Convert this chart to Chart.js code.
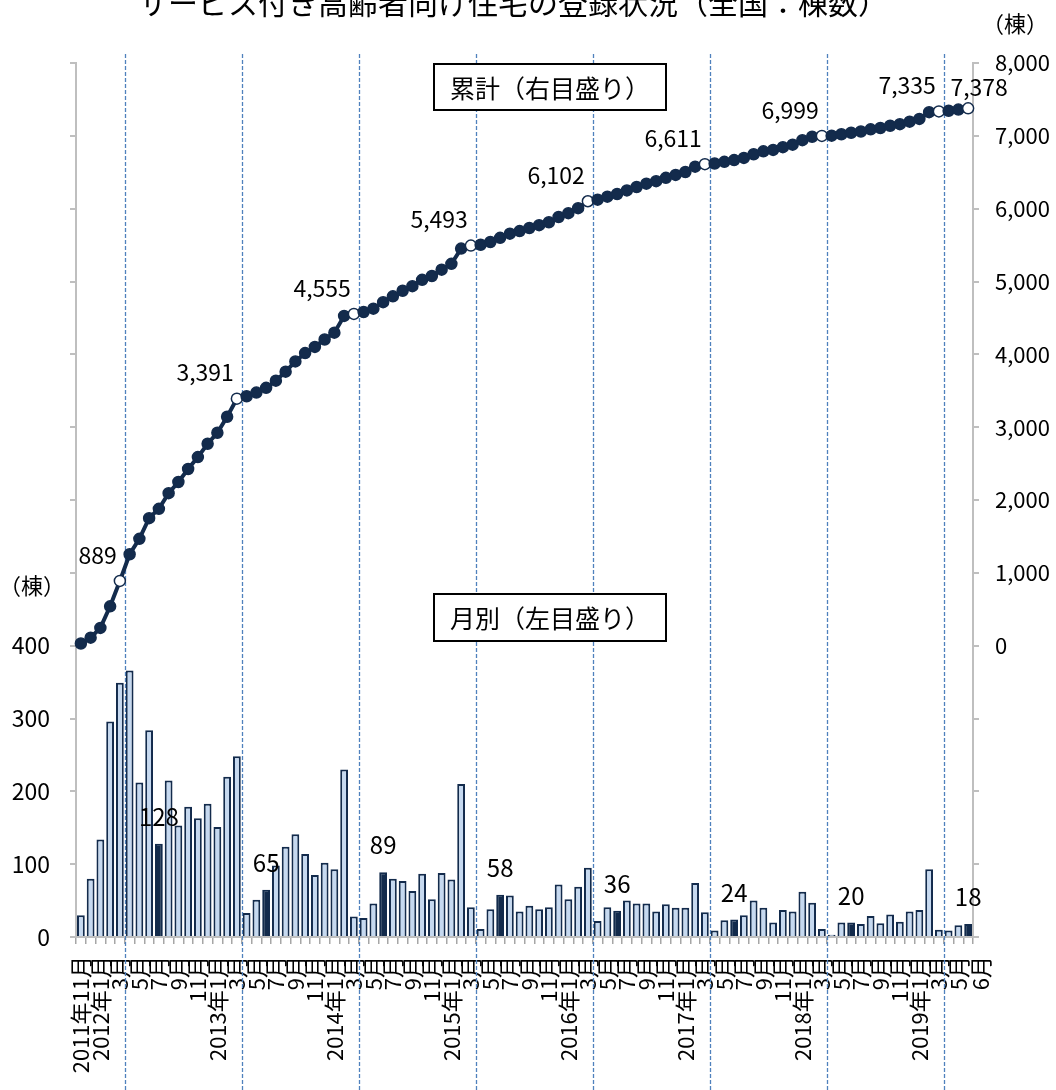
<!DOCTYPE html>
<html lang="ja">
<head>
<meta charset="utf-8">
<title>サービス付き高齢者向け住宅の登録状況</title>
<script src="https://cdn.jsdelivr.net/npm/chart.js@4.4.1/dist/chart.umd.min.js"></script>
<style>
  html, body { margin: 0; padding: 0; background: #fff; }
  #wrap { width: 1056px; height: 1090px; position: relative; }
</style>
</head>
<body>
<div id="wrap"><canvas id="chart"></canvas></div>
<script>
// --- DATA ---
const months = [
  '2011年11月', '12月',
  '2012年1月', '2月', '3月', '4月', '5月', '6月', '7月', '8月', '9月', '10月', '11月', '12月',
  '2013年1月', '2月', '3月', '4月', '5月', '6月', '7月', '8月', '9月', '10月', '11月', '12月',
  '2014年1月', '2月', '3月', '4月', '5月', '6月', '7月', '8月', '9月', '10月', '11月', '12月',
  '2015年1月', '2月', '3月', '4月', '5月', '6月', '7月', '8月', '9月', '10月', '11月', '12月',
  '2016年1月', '2月', '3月', '4月', '5月', '6月', '7月', '8月', '9月', '10月', '11月', '12月',
  '2017年1月', '2月', '3月', '4月', '5月', '6月', '7月', '8月', '9月', '10月', '11月', '12月',
  '2018年1月', '2月', '3月', '4月', '5月', '6月', '7月', '8月', '9月', '10月', '11月', '12月',
  '2019年1月', '2月', '3月', '4月', '5月', '6月'
];

// monthly registrations (left axis)
const monthly = [
  30, 80,
  134, 296, 349, 366, 212, 284, 128, 215, 153, 179, 163, 183,
  151, 220, 248, 33, 51, 65, 98, 124, 141, 114, 85, 102,
  93, 230, 28, 26, 46, 89, 80, 77, 63, 87, 52, 88,
  79, 210, 41, 11, 38, 58, 57, 35, 43, 38, 41, 72,
  52, 69, 95, 22, 41, 36, 50, 46, 46, 35, 45, 40,
  40, 74, 34, 9, 23, 24, 30, 50, 40, 20, 37, 35,
  62, 47, 11, 3, 20, 20, 18, 29, 19, 31, 21, 35,
  37, 93, 10, 9, 16, 18
];

// cumulative total (right axis)
const cumulative = [
  30, 110,
  244, 540, 889, 1255, 1467, 1751, 1879, 2094, 2247, 2426, 2589, 2772,
  2923, 3143, 3391, 3424, 3475, 3540, 3638, 3762, 3903, 4017, 4102, 4204,
  4297, 4527, 4555, 4581, 4627, 4716, 4796, 4873, 4936, 5023, 5075, 5163,
  5242, 5452, 5493, 5504, 5542, 5600, 5657, 5692, 5735, 5773, 5814, 5886,
  5938, 6007, 6102, 6124, 6165, 6201, 6251, 6297, 6343, 6378, 6423, 6463,
  6503, 6577, 6611, 6620, 6643, 6667, 6697, 6747, 6787, 6807, 6844, 6879,
  6941, 6988, 6999, 7002, 7022, 7042, 7060, 7089, 7108, 7139, 7160, 7195,
  7232, 7325, 7335, 7344, 7360, 7378
];

// bars drawn dark and labelled
const highlightBars = [8, 19, 31, 43, 55, 67, 79, 91];

const leftTicksShown = [0, 100, 200, 300, 400];
const rightTicksShown = [0, 1000, 2000, 3000, 4000, 5000, 6000, 7000, 8000];

// --- STYLE ---
const DARK = '#132B4C';
const LIGHT = '#C6D9F0';
const AXIS = '#BFBFBF';
const DASH = '#4F81BD';
const FONT = '"Noto Sans CJK JP", "Noto Sans", sans-serif';

Chart.defaults.font.family = FONT;
Chart.defaults.color = '#000';

const lastIdx = months.length - 1;
// fiscal year ends (March) and the latest month get the white markers
const markIdx = months.map((m, i) => (m === '3月' || i === lastIdx) ? i : -1).filter(i => i >= 0);

// --- PLUGINS ---
const decorations = {
  id: 'decorations',
  beforeDatasetsDraw(chart) {
    const { ctx } = chart;
    const x = chart.scales.x;
    ctx.save();
    ctx.strokeStyle = DASH;
    ctx.lineWidth = 1.3;
    ctx.setLineDash([4, 2]);
    months.forEach((m, i) => {
      if (m !== '3月') return;
      const px = Math.round((x.getPixelForValue(i) + x.getPixelForValue(i + 1)) / 2) + 0.5;
      ctx.beginPath();
      ctx.moveTo(px, 54);
      ctx.lineTo(px, chart.height);
      ctx.stroke();
    });
    ctx.restore();
  },
  afterDatasetsDraw(chart) {
    const { ctx } = chart;
    const barMeta = chart.getDatasetMeta(1);
    const lineMeta = chart.getDatasetMeta(0);
    ctx.save();
    ctx.fillStyle = '#000';

    // bar value labels
    ctx.font = '24px ' + FONT;
    ctx.textAlign = 'center';
    ctx.textBaseline = 'middle';
    highlightBars.forEach(i => {
      const b = barMeta.data[i];
      ctx.fillText(String(monthly[i]), b.x, b.y - 27);
    });

    // cumulative labels
    ctx.font = '23px ' + FONT;
    markIdx.forEach(i => {
      const p = lineMeta.data[i];
      const txt = cumulative[i].toLocaleString('en-US');
      if (i === lastIdx) {
        ctx.textAlign = 'center';
        ctx.fillText(txt, p.x + 11, p.y - 21);
      } else {
        ctx.textAlign = 'right';
        ctx.fillText(txt, p.x - 3, p.y - 26);
      }
    });

    // legend boxes
    const box = (x, y, w, h, text) => {
      ctx.fillStyle = '#fff';
      ctx.fillRect(x, y, w, h);
      ctx.strokeStyle = '#000';
      ctx.lineWidth = 2;
      ctx.strokeRect(x, y, w, h);
      ctx.fillStyle = '#000';
      ctx.font = '25px ' + FONT;
      ctx.textAlign = 'center';
      ctx.textBaseline = 'middle';
      ctx.fillText(text, x + w / 2, y + h / 2 + 1);
    };
    box(434, 64, 232, 46, '累計（右目盛り）');
    box(434, 594, 232, 47, '月別（左目盛り）');

    // title (top is cut off in the original)
    ctx.font = '30px ' + FONT;
    ctx.textAlign = 'center';
    ctx.textBaseline = 'alphabetic';
    ctx.fillText('サービス付き高齢者向け住宅の登録状況（全国：棟数）', 513, 14);

    // unit labels
    ctx.font = '22px ' + FONT;
    ctx.textBaseline = 'middle';
    ctx.fillText('（棟）', 1015, 24);
    ctx.fillText('（棟）', 32, 586);

    // last month label, set a little apart like the original
    const xs = chart.scales.x;
    ctx.save();
    ctx.font = '22px ' + FONT;
    ctx.translate(xs.getPixelForValue(lastIdx) + 13, xs.top + 7 + 12);
    ctx.rotate(-Math.PI / 2);
    ctx.textAlign = 'right';
    ctx.textBaseline = 'middle';
    ctx.fillText(months[lastIdx], 0, 0);
    ctx.restore();

    ctx.restore();
  }
};

// --- CHART ---
new Chart(document.getElementById('chart'), {
  data: {
    labels: months,
    datasets: [
      {
        type: 'line',
        label: '累計（右目盛り）',
        data: cumulative,
        yAxisID: 'y1',
        order: 0,
        borderColor: DARK,
        borderWidth: 4,
        tension: 0,
        pointRadius: 5.5,
        pointBorderWidth: 1.5,
        pointBorderColor: DARK,
        pointBackgroundColor: months.map((m, i) => markIdx.includes(i) ? '#fff' : DARK),
        clip: false
      },
      {
        type: 'bar',
        label: '月別（左目盛り）',
        data: monthly,
        yAxisID: 'y',
        order: 1,
        backgroundColor: months.map((m, i) => highlightBars.includes(i) ? DARK : LIGHT),
        borderColor: DARK,
        borderWidth: 2,
        barPercentage: 0.8,
        categoryPercentage: 1.0
      }
    ]
  },
  options: {
    responsive: true,
    maintainAspectRatio: false,
    animation: false,
    layout: { padding: { top: 63, left: 0, right: 0, bottom: 0 } },
    plugins: {
      legend: { display: false },
      tooltip: { enabled: false }
    },
    scales: {
      x: {
        offset: true,
        grid: { offset: true, drawOnChartArea: false, drawTicks: true, tickLength: 7, color: '#A6A6A6', lineWidth: 1.5 },
        border: { color: AXIS, width: 2 },
        ticks: {
          autoSkip: false,
          maxRotation: 90,
          minRotation: 90,
          padding: 12,
          font: { size: 22 },
          callback: (v, i) => (i % 2 === 0 ? months[i] : '')
        },
        afterFit: s => { s.height = 153; }
      },
      y: {
        position: 'left',
        min: 0,
        max: 1200,
        grid: { drawOnChartArea: false, tickLength: 6, color: AXIS, lineWidth: 2 },
        border: { color: AXIS, width: 2 },
        ticks: {
          stepSize: 100,
          padding: 20,
          font: { size: 23 },
          callback: v => (leftTicksShown.includes(v) ? String(v) : '')
        },
        afterFit: s => { s.width = 76; }
      },
      y1: {
        position: 'right',
        min: -4000,
        max: 8000,
        grid: { drawOnChartArea: false, tickLength: 6, color: AXIS, lineWidth: 2 },
        border: { color: AXIS, width: 2 },
        ticks: {
          stepSize: 1000,
          padding: 16,
          font: { size: 22 },
          callback: v => (rightTicksShown.includes(v) ? v.toLocaleString('en-US') : '')
        },
        afterFit: s => { s.width = 83; }
      }
    }
  },
  plugins: [decorations]
});
</script>
</body>
</html>
